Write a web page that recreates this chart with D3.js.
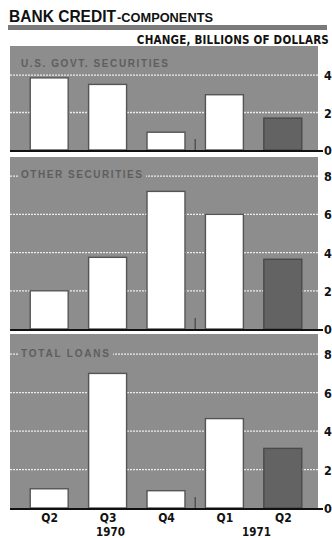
<!DOCTYPE html>
<html>
<head>
<meta charset="utf-8">
<script src="https://cdn.jsdelivr.net/npm/d3@7"></script>
<style>
  html, body { margin: 0; padding: 0; background: #fff; }
  svg { display: block; }
  .narrow { font-family: "Liberation Sans Narrow", "DejaVu Sans Condensed", "Roboto Condensed", sans-serif; font-weight: bold; font-stretch: condensed; }
</style>
</head>
<body>
<svg id="chart" width="332" height="538"></svg>
<script>
// Quarterly change in bank credit components, billions of dollars
const quarters = ["Q2", "Q3", "Q4", "Q1", "Q2b"];
const quarterLabels = ["Q2", "Q3", "Q4", "Q1", "Q2"];
const years = [{ label: "1970", at: 1.05 }, { label: "1971", at: 3.55 }];
const usGovtSecurities = [3.85, 3.5, 0.95, 2.95, 1.7];
const otherSecurities = [2.0, 3.75, 7.2, 6.0, 3.65];
const totalLoans = [1.0, 7.0, 0.9, 4.65, 3.1];
const ticksSmall = [0, 2, 4];
const ticksLarge = [0, 2, 4, 6, 8];
const panelTitles = ["U.S. GOVT. SECURITIES", "OTHER SECURITIES", "TOTAL LOANS"];

const svg = d3.select("#chart");
const panelGray = "#8d8d8d";
const darkBar = "#636363";

// Title
const titleFont = "'Liberation Sans', Arial, sans-serif";
svg.append("text").attr("x", 9).attr("y", 22).attr("fill", "#111")
  .style("font-family", titleFont).style("font-weight", "bold").style("font-size", "16.5px")
  .attr("textLength", 107).attr("lengthAdjust", "spacingAndGlyphs")
  .text("BANK CREDIT");
svg.append("text").attr("x", 117).attr("y", 22).attr("fill", "#111")
  .style("font-family", titleFont).style("font-weight", "bold").style("font-size", "12px")
  .attr("textLength", 96).attr("lengthAdjust", "spacingAndGlyphs")
  .text("-COMPONENTS");

svg.append("rect").attr("x", 8).attr("y", 25).attr("width", 319).attr("height", 5).attr("fill", "#7a7a7a");

svg.append("text").attr("class", "narrow").attr("x", 329).attr("y", 44)
  .attr("text-anchor", "end").attr("fill", "#111").style("font-size", "11.5px")
  .style("letter-spacing", "0.2px")
  .text("CHANGE, BILLIONS OF DOLLARS");

const x = d3.scalePoint().domain(quarters).range([20, 312]).padding(0.5);
const barW = x.step() * 0.65;

const panels = [
  { values: usGovtSecurities, top: 46, zero: 150, max: 5.55, ticks: ticksSmall, title: panelTitles[0], titleY: 67, titleLen: 147 },
  { values: otherSecurities, top: 157, zero: 329, max: 9.0, ticks: ticksLarge, title: panelTitles[1], titleY: 178, titleLen: 121 },
  { values: totalLoans, top: 334, zero: 508, max: 9.05, ticks: ticksLarge, title: panelTitles[2], titleY: 357, titleLen: 88 }
];

panels.forEach(p => {
  const y = d3.scaleLinear().domain([0, p.max]).range([p.zero, p.top]);
  const g = svg.append("g");

  g.append("rect").attr("x", 10).attr("y", p.top).attr("width", 308)
    .attr("height", p.zero - p.top).attr("fill", panelGray);

  // gridlines
  g.selectAll("line.grid").data(p.ticks.filter(t => t > 0)).join("line")
    .attr("x1", 10).attr("x2", 318)
    .attr("y1", d => y(d)).attr("y2", d => y(d))
    .attr("stroke", "#ececec").attr("stroke-width", 1.3)
    .attr("stroke-dasharray", "2,1");

  // panel title with knock-out behind it
  const tBg = g.append("rect").attr("fill", panelGray);
  g.append("text").attr("x", 21).attr("y", p.titleY)
    .attr("fill", "#5e5e5e").style("font-size", "10px").style("font-weight", "bold")
    .style("font-family", titleFont)
    .attr("textLength", p.titleLen).attr("lengthAdjust", "spacing")
    .text(p.title);
  tBg.attr("x", 19).attr("y", p.titleY - 10).attr("width", p.titleLen + 6).attr("height", 12);

  // bars
  g.selectAll("rect.bar").data(p.values).join("rect")
    .attr("x", (d, i) => x(quarters[i]) - barW / 2)
    .attr("width", barW)
    .attr("y", d => y(d))
    .attr("height", d => p.zero - y(d))
    .attr("fill", (d, i) => i === quarters.length - 1 ? darkBar : "#fff")
    .attr("stroke", (d, i) => i === quarters.length - 1 ? "#4a4a4a" : "#555")
    .attr("stroke-width", 1.4);

  // year divider tick
  const divX = (x(quarters[2]) + x(quarters[3])) / 2;
  g.append("line").attr("x1", divX).attr("x2", divX)
    .attr("y1", p.zero - 11).attr("y2", p.zero)
    .attr("stroke", "#444").attr("stroke-width", 1.2);

  // baseline
  g.append("line").attr("x1", 10).attr("x2", 323)
    .attr("y1", p.zero + 1).attr("y2", p.zero + 1)
    .attr("stroke", "#111").attr("stroke-width", 2);

  // right axis
  const axis = d3.axisRight(y).tickValues(p.ticks).tickSize(0).tickPadding(0).tickFormat(d3.format("d"));
  const ax = g.append("g").attr("transform", "translate(324,0)").call(axis);
  ax.select(".domain").remove();
  ax.selectAll("text").attr("class", "narrow").attr("fill", "#111")
    .style("font-size", "12.5px").attr("dy", "0.36em");
});

// category axis along the bottom panel
const last = panels[panels.length - 1];
const xAxis = d3.axisBottom(x).tickSize(0).tickPadding(3).tickFormat((d, i) => quarterLabels[i]);
const xg = svg.append("g").attr("transform", `translate(0,${last.zero + 2})`).call(xAxis);
xg.select(".domain").remove();
xg.selectAll("text").attr("class", "narrow").attr("fill", "#111").style("font-size", "12px");

svg.selectAll("text.year").data(years).join("text")
  .attr("class", "narrow year")
  .attr("x", d => {
    const i = Math.floor(d.at), f = d.at - i;
    const a = x(quarters[i]), b = i + 1 < quarters.length ? x(quarters[i + 1]) : a;
    return a + (b - a) * f;
  })
  .attr("y", 535.5).attr("text-anchor", "middle").attr("fill", "#111")
  .style("font-size", "11.5px").text(d => d.label);
</script>
</body>
</html>
